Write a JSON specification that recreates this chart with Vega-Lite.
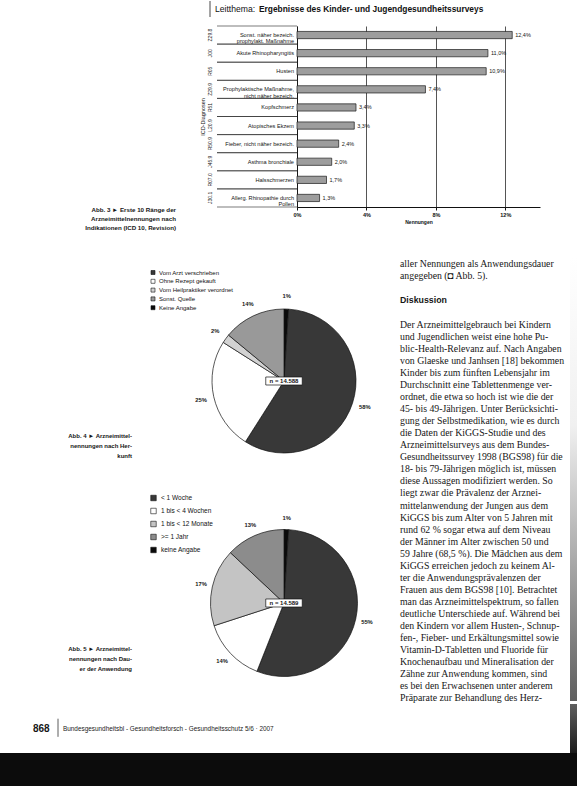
{
"$schema": "https://vega.github.io/schema/vega-lite/v6.json",
"padding": 0,
"background": "#ffffff",
"spacing": 0,
"config": {
  "view": {"stroke": null},
  "text": {"color": "#161616", "font": "Liberation Sans"},
  "axis": {"labelFont": "Liberation Sans", "titleFont": "Liberation Sans", "labelColor": "#111", "titleColor": "#111"},
  "legend": {"labelFont": "Liberation Sans", "labelColor": "#111"}
},
"resolve": {"scale": {"color": "independent", "fill": "independent"}, "legend": {"color": "independent", "fill": "independent"}},
"datasets": {
  "bars": [
    {"code": "Z29.8", "cat": "Sonst. näher bezeich.|prophylakt. Maßnahme", "v": 12.4, "lab": "12,4%"},
    {"code": "J00", "cat": "Akute Rhinopharyngitis", "v": 11.0, "lab": "11,0%"},
    {"code": "R05", "cat": "Husten", "v": 10.9, "lab": "10,9%"},
    {"code": "Z29.9", "cat": "Prophylaktische Maßnahme,|nicht näher bezeich.", "v": 7.4, "lab": "7,4%"},
    {"code": "R51", "cat": "Kopfschmerz", "v": 3.4, "lab": "3,4%"},
    {"code": "L20.9", "cat": "Atopisches Ekzem", "v": 3.3, "lab": "3,3%"},
    {"code": "R50.9", "cat": "Fieber, nicht näher bezeich.", "v": 2.4, "lab": "2,4%"},
    {"code": "J45.9", "cat": "Asthma bronchiale", "v": 2.0, "lab": "2,0%"},
    {"code": "R07.0", "cat": "Halsschmerzen", "v": 1.7, "lab": "1,7%"},
    {"code": "J30.1", "cat": "Allerg. Rhinopathie durch|Pollen", "v": 1.3, "lab": "1,3%"}
  ],
  "pie1": [
    {"fig": "Abb. 4", "cat": "Keine Angabe", "v": 1, "o": 0, "pct": "1%"},
    {"fig": "Abb. 4", "cat": "Vom Arzt verschrieben", "v": 58, "o": 1, "pct": "58%"},
    {"fig": "Abb. 4", "cat": "Ohne Rezept gekauft", "v": 25, "o": 2, "pct": "25%"},
    {"fig": "Abb. 4", "cat": "Vom Heilpraktiker verordnet", "v": 2, "o": 3, "pct": "2%"},
    {"fig": "Abb. 4", "cat": "Sonst. Quelle", "v": 14, "o": 4, "pct": "14%"}
  ],
  "pie2": [
    {"fig": "Abb. 5", "cat": "keine Angabe", "v": 1, "o": 0, "pct": "1%"},
    {"fig": "Abb. 5", "cat": "< 1 Woche", "v": 55, "o": 1, "pct": "55%"},
    {"fig": "Abb. 5", "cat": "1 bis < 4 Wochen", "v": 14, "o": 2, "pct": "14%"},
    {"fig": "Abb. 5", "cat": "1 bis < 12 Monate", "v": 17, "o": 3, "pct": "17%"},
    {"fig": "Abb. 5", "cat": ">= 1 Jahr", "v": 13, "o": 4, "pct": "13%"}
  ],
  "nums": [
    {"fig": "Abb. 4", "n": "n = 14.588"},
    {"fig": "Abb. 5", "n": "n = 14.589"}
  ],
  "captions": [
    {"fig": "Abb. 4", "t": "Abb. 4 ► Arzneimittel-|nennungen nach Her-|kunft"},
    {"fig": "Abb. 5", "t": "Abb. 5 ► Arzneimittel-|nennungen nach Dau-|er der Anwendung"}
  ],
  "page": [
    {"ln": 1, "kind": "body", "t": "aller Nennungen als Anwendungsdauer"},
    {"ln": 2, "kind": "body", "t": "angegeben (◘ Abb. 5)."},
    {"ln": 4, "kind": "head", "t": "Diskussion"},
    {"ln": 6, "kind": "body", "t": "Der Arzneimittelgebrauch bei Kindern"},
    {"ln": 7, "kind": "body", "t": "und Jugendlichen weist eine hohe Pu-"},
    {"ln": 8, "kind": "body", "t": "blic-Health-Relevanz auf. Nach Angaben"},
    {"ln": 9, "kind": "body", "t": "von Glaeske und Janhsen [18] bekommen"},
    {"ln": 10, "kind": "body", "t": "Kinder bis zum fünften Lebensjahr im"},
    {"ln": 11, "kind": "body", "t": "Durchschnitt eine Tablettenmenge ver-"},
    {"ln": 12, "kind": "body", "t": "ordnet, die etwa so hoch ist wie die der"},
    {"ln": 13, "kind": "body", "t": "45- bis 49-Jährigen. Unter Berücksichti-"},
    {"ln": 14, "kind": "body", "t": "gung der Selbstmedikation, wie es durch"},
    {"ln": 15, "kind": "body", "t": "die Daten der KiGGS-Studie und des"},
    {"ln": 16, "kind": "body", "t": "Arzneimittelsurveys aus dem Bundes-"},
    {"ln": 17, "kind": "body", "t": "Gesundheitssurvey 1998 (BGS98) für die"},
    {"ln": 18, "kind": "body", "t": "18- bis 79-Jährigen möglich ist, müssen"},
    {"ln": 19, "kind": "body", "t": "diese Aussagen modifiziert werden. So"},
    {"ln": 20, "kind": "body", "t": "liegt zwar die Prävalenz der Arznei-"},
    {"ln": 21, "kind": "body", "t": "mittelanwendung der Jungen aus dem"},
    {"ln": 22, "kind": "body", "t": "KiGGS bis zum Alter von 5 Jahren mit"},
    {"ln": 23, "kind": "body", "t": "rund 62 % sogar etwa auf dem Niveau"},
    {"ln": 24, "kind": "body", "t": "der Männer im Alter zwischen 50 und"},
    {"ln": 25, "kind": "body", "t": "59 Jahre (68,5 %). Die Mädchen aus dem"},
    {"ln": 26, "kind": "body", "t": "KiGGS erreichen jedoch zu keinem Al-"},
    {"ln": 27, "kind": "body", "t": "ter die Anwendungsprävalenzen der"},
    {"ln": 28, "kind": "body", "t": "Frauen aus dem BGS98 [10]. Betrachtet"},
    {"ln": 29, "kind": "body", "t": "man das Arzneimittelspektrum, so fallen"},
    {"ln": 30, "kind": "body", "t": "deutliche Unterschiede auf. Während bei"},
    {"ln": 31, "kind": "body", "t": "den Kindern vor allem Husten-, Schnup-"},
    {"ln": 32, "kind": "body", "t": "fen-, Fieber- und Erkältungsmittel sowie"},
    {"ln": 33, "kind": "body", "t": "Vitamin-D-Tabletten und Fluoride für"},
    {"ln": 34, "kind": "body", "t": "Knochenaufbau und Mineralisation der"},
    {"ln": 35, "kind": "body", "t": "Zähne zur Anwendung kommen, sind"},
    {"ln": 36, "kind": "body", "t": "es bei den Erwachsenen unter anderem"},
    {"ln": 37, "kind": "body", "t": "Präparate zur Behandlung des Herz-"}
  ],
  "blank": [{}]
},
"vconcat": [
  {"bounds": "flush", "spacing": 0, "hconcat": [
    {"width": 210, "height": 16, "data": {"name": "blank"}, "mark": {"type": "rule", "color": "#1a1a1a", "strokeWidth": 0.8},
     "encoding": {"x": {"datum": 1, "type": "quantitative", "scale": {"domain": [0, 1], "nice": false, "zero": false}, "axis": null}}},
    {"width": 5, "height": 24, "data": {"name": "blank"}, "mark": "text", "encoding": {"text": {"value": ""}}},
    {"width": 44, "height": 16, "data": {"values": [{"t": "Leitthema:"}]},
     "mark": {"type": "text", "align": "left", "baseline": "middle", "fontSize": 8.6, "color": "#111"},
     "encoding": {"x": {"datum": 0, "type": "quantitative", "scale": {"domain": [0, 1], "nice": false, "zero": false}, "axis": null}, "text": {"field": "t"}}},
    {"width": 318, "height": 16, "data": {"values": [{"t": "Ergebnisse des Kinder- und Jugendgesundheitssurveys"}]},
     "mark": {"type": "text", "align": "left", "baseline": "middle", "fontSize": 8.4, "fontWeight": "bold", "color": "#111"},
     "encoding": {"x": {"datum": 0, "type": "quantitative", "scale": {"domain": [0, 1], "nice": false, "zero": false}, "axis": null}, "text": {"field": "t"}}}
  ]},
  {"bounds": "flush", "spacing": 0, "hconcat": [
    {"width": 176, "height": 181, "data": {"values": [{"t": "Abb. 3 ► Erste 10 Ränge der|Arzneimittelnennungen nach|Indikationen (ICD 10, Revision)"}]},
     "mark": {"type": "text", "align": "right", "baseline": "top", "fontSize": 6.2, "fontWeight": "bold", "lineBreak": "|", "lineHeight": 9},
     "encoding": {
       "x": {"datum": 1, "type": "quantitative", "scale": {"domain": [0, 1], "nice": false, "zero": false}, "axis": null},
       "y": {"datum": 0, "type": "quantitative", "scale": {"domain": [0, 1], "nice": false, "zero": false}, "axis": null},
       "text": {"field": "t"}}},
    {"width": 27, "height": 231, "data": {"name": "blank"}, "mark": "text", "encoding": {"text": {"value": ""}}},
    {"width": 14, "height": 181, "data": {"name": "bars"},
     "mark": {"type": "text", "angle": 270, "fontSize": 5, "align": "center", "baseline": "middle"},
     "encoding": {
       "y": {"field": "cat", "type": "nominal", "sort": null, "scale": {"paddingInner": 0, "paddingOuter": 0},
             "axis": {"title": "ICD-Diagnosen", "labels": false, "ticks": false, "domain": false, "titleFontSize": 5.5, "titleFontWeight": "normal", "titlePadding": -2}},
       "text": {"field": "code"}}},
    {"width": 80, "height": 181, "data": {"name": "bars"},
     "layer": [
       {"mark": {"type": "rule", "color": "#222", "strokeWidth": 0.6},
        "encoding": {"y": {"field": "cat", "type": "nominal", "sort": null, "bandPosition": 0, "scale": {"paddingInner": 0, "paddingOuter": 0}, "axis": null}}},
       {"mark": {"type": "rule", "color": "#222", "strokeWidth": 0.6},
        "encoding": {"y": {"field": "cat", "type": "nominal", "sort": null, "bandPosition": 1, "scale": {"paddingInner": 0, "paddingOuter": 0}, "axis": null}}},
       {"mark": {"type": "text", "align": "right", "baseline": "middle", "dx": -3, "fontSize": 5.6, "lineBreak": "|", "lineHeight": 6.3},
        "encoding": {
          "y": {"field": "cat", "type": "nominal", "sort": null, "scale": {"paddingInner": 0, "paddingOuter": 0}, "axis": null},
          "x": {"datum": 1, "type": "quantitative", "scale": {"domain": [0, 1], "nice": false, "zero": false}, "axis": null},
          "text": {"field": "cat"}}}
     ]},
    {"width": 243, "height": 181, "data": {"name": "bars"},
     "layer": [
       {"mark": {"type": "bar", "fill": "#9d9d9d", "stroke": "#1a1a1a", "strokeWidth": 0.7},
        "encoding": {
          "y": {"field": "cat", "type": "nominal", "sort": null, "scale": {"paddingInner": 0.6, "paddingOuter": 0.3},
                "axis": {"title": null, "labels": false, "ticks": false, "domain": true, "domainColor": "#111", "domainWidth": 0.9}},
          "x": {"field": "v", "type": "quantitative", "scale": {"domain": [0, 14], "nice": false},
                "axis": {"values": [0, 2, 4, 6, 8, 10, 12, 14], "labelExpr": "datum.value + '%'", "labelFlush": false, "labelFontSize": 5.5, "labelFontWeight": "bold", "labelPadding": 2, "tickSize": 3, "tickColor": "#111", "domainColor": "#111", "grid": true, "gridColor": "#2a2a2a", "gridWidth": 0.8, "title": "Nennungen", "titleFontSize": 5, "titleFontWeight": "bold", "titlePadding": 2}}}},
       {"mark": {"type": "text", "align": "left", "baseline": "middle", "dx": 3, "fontSize": 5.5},
        "encoding": {
          "y": {"field": "cat", "type": "nominal", "sort": null},
          "x": {"field": "v", "type": "quantitative"},
          "text": {"field": "lab"}}}
     ]}
  ]},
  {"bounds": "flush", "spacing": 0,
   "resolve": {"scale": {"color": "independent", "fill": "independent"}, "legend": {"color": "independent", "fill": "independent"}},
   "hconcat": [
    {"width": 132, "height": 444, "data": {"name": "captions"},
     "mark": {"type": "text", "align": "right", "baseline": "top", "fontSize": 6, "fontWeight": "bold", "lineBreak": "|", "lineHeight": 10.2},
     "encoding": {
       "x": {"datum": 1, "type": "quantitative", "scale": {"domain": [0, 1], "nice": false, "zero": false}, "axis": null},
       "y": {"field": "fig", "type": "nominal", "scale": {"type": "point", "domain": ["Abb. 4", "Abb. 5"], "padding": 0.542, "align": 0.762}, "axis": null},
       "text": {"field": "t"}}},
    {"width": 72, "height": 444, "data": {"name": "blank"}, "mark": "text", "encoding": {"text": {"value": ""}}},
    {"width": 160, "height": 444,
     "resolve": {"scale": {"color": "independent", "fill": "independent"}, "legend": {"color": "independent", "fill": "independent"}},
     "layer": [
       {"data": {"name": "pie1"}, "mark": {"type": "arc", "outerRadius": 72, "stroke": "#111", "strokeWidth": 0.7},
        "encoding": {
          "y": {"field": "fig", "type": "nominal", "scale": {"type": "point", "domain": ["Abb. 4", "Abb. 5"], "range": [124, 346], "padding": 0}, "axis": null},
          "theta": {"field": "v", "type": "quantitative", "stack": true},
          "order": {"field": "o", "type": "quantitative"},
          "color": {"field": "cat", "type": "nominal",
                    "scale": {"domain": ["Vom Arzt verschrieben", "Ohne Rezept gekauft", "Vom Heilpraktiker verordnet", "Sonst. Quelle", "Keine Angabe"],
                              "range": ["#383838", "#ffffff", "#d2d2d2", "#999999", "#0a0a0a"]},
                    "legend": {"title": null, "orient": "none", "legendX": -54, "legendY": 12.5, "symbolType": "square", "symbolSize": 16, "symbolStrokeColor": "#111", "symbolStrokeWidth": 0.6, "labelFontSize": 6, "labelOffset": 3, "rowPadding": 0.8}}}},
       {"data": {"name": "pie1"}, "mark": {"type": "text", "radius": 85, "fontSize": 5.8, "fontWeight": "bold"},
        "encoding": {
          "y": {"field": "fig", "type": "nominal", "scale": {"type": "point", "domain": ["Abb. 4", "Abb. 5"], "range": [124, 346], "padding": 0}, "axis": null},
          "theta": {"field": "v", "type": "quantitative", "stack": true},
          "order": {"field": "o", "type": "quantitative"},
          "text": {"field": "pct"}}},
       {"data": {"name": "pie2"}, "mark": {"type": "arc", "outerRadius": 73.5, "stroke": "#111", "strokeWidth": 0.7},
        "encoding": {
          "y": {"field": "fig", "type": "nominal", "scale": {"type": "point", "domain": ["Abb. 4", "Abb. 5"], "range": [124, 346], "padding": 0}, "axis": null},
          "theta": {"field": "v", "type": "quantitative", "stack": true},
          "order": {"field": "o", "type": "quantitative"},
          "fill": {"field": "cat", "type": "nominal",
                   "scale": {"domain": ["< 1 Woche", "1 bis < 4 Wochen", "1 bis < 12 Monate", ">= 1 Jahr", "keine Angabe"],
                             "range": ["#383838", "#ffffff", "#c4c4c4", "#8c8c8c", "#0a0a0a"]},
                   "legend": {"title": null, "orient": "none", "legendX": -54, "legendY": 237.5, "symbolType": "square", "symbolSize": 30, "symbolStrokeColor": "#111", "symbolStrokeWidth": 0.6, "labelFontSize": 6.5, "labelOffset": 4, "rowPadding": 4}}}},
       {"data": {"name": "pie2"}, "mark": {"type": "text", "radius": 85, "fontSize": 5.8, "fontWeight": "bold"},
        "encoding": {
          "y": {"field": "fig", "type": "nominal", "scale": {"type": "point", "domain": ["Abb. 4", "Abb. 5"], "range": [124, 346], "padding": 0}, "axis": null},
          "theta": {"field": "v", "type": "quantitative", "stack": true},
          "order": {"field": "o", "type": "quantitative"},
          "text": {"field": "pct"}}},
       {"data": {"name": "nums"}, "mark": {"type": "point", "shape": "M-1,-0.22H1V0.22H-1Z", "size": 1330, "filled": true, "fill": "#ffffff", "stroke": "#111", "strokeWidth": 0.7, "opacity": 1},
        "encoding": {"y": {"field": "fig", "type": "nominal", "scale": {"type": "point", "domain": ["Abb. 4", "Abb. 5"], "range": [124, 346], "padding": 0}, "axis": null}}},
       {"data": {"name": "nums"}, "mark": {"type": "text", "fontSize": 6, "fontWeight": "bold", "baseline": "middle"},
        "encoding": {"y": {"field": "fig", "type": "nominal", "scale": {"type": "point", "domain": ["Abb. 4", "Abb. 5"], "range": [124, 346], "padding": 0}, "axis": null}, "text": {"field": "n"}}}
     ]},
    {"width": 36, "height": 444, "data": {"name": "blank"}, "mark": "text", "encoding": {"text": {"value": ""}}},
    {"width": 170, "height": 444, "data": {"name": "page"},
     "layer": [
       {"transform": [{"filter": "datum.kind === 'body'"}],
        "mark": {"type": "text", "align": "left", "baseline": "middle", "fontSize": 9.8, "font": "Liberation Serif"},
        "encoding": {
          "x": {"datum": 0, "type": "quantitative", "scale": {"domain": [0, 1], "nice": false, "zero": false}, "axis": null},
          "y": {"field": "ln", "type": "quantitative", "scale": {"domain": [0.395, 37.21], "nice": false, "zero": false, "reverse": true}, "axis": null},
          "text": {"field": "t"}}},
       {"transform": [{"filter": "datum.kind === 'head'"}],
        "mark": {"type": "text", "align": "left", "baseline": "middle", "fontSize": 8.8, "fontWeight": "bold"},
        "encoding": {
          "x": {"datum": 0, "type": "quantitative"},
          "y": {"field": "ln", "type": "quantitative"},
          "text": {"field": "t"}}}
     ]},
    {"width": 7, "height": 444, "data": {"name": "blank"},
     "mark": {"type": "rect", "color": {"gradient": "linear", "x1": 0, "y1": 0, "x2": 0, "y2": 1, "stops": [{"offset": 0, "color": "#ffffff"}, {"offset": 0.38, "color": "#f0f0f0"}, {"offset": 1, "color": "#5f5f5f"}]}},
     "encoding": {
       "x": {"datum": 0, "type": "quantitative", "scale": {"domain": [0, 1], "nice": false, "zero": false}, "axis": null},
       "x2": {"datum": 1},
       "y": {"datum": 0, "type": "quantitative", "scale": {"domain": [0, 1], "nice": false, "zero": false}, "axis": null},
       "y2": {"datum": 1}}}
  ]},
  {"bounds": "flush", "spacing": 0, "hconcat": [
    {"width": 33, "height": 49, "data": {"name": "blank"}, "mark": "text", "encoding": {"text": {"value": ""}}},
    {"width": 20, "height": 49, "data": {"values": [{"t": "868"}]},
     "mark": {"type": "text", "align": "left", "baseline": "middle", "fontSize": 10, "fontWeight": "bold"},
     "encoding": {"x": {"datum": 0, "type": "quantitative", "scale": {"domain": [0, 1], "nice": false, "zero": false}, "axis": null}, "text": {"field": "t"}}},
    {"width": 10, "height": 49, "data": {"name": "blank"}, "mark": {"type": "rule", "color": "#333", "strokeWidth": 0.8},
     "encoding": {
       "x": {"datum": 0.5, "type": "quantitative", "scale": {"domain": [0, 1], "nice": false, "zero": false}, "axis": null},
       "y": {"datum": 0.33, "type": "quantitative", "scale": {"domain": [0, 1], "nice": false, "zero": false}, "axis": null},
       "y2": {"datum": 0.7}}},
    {"width": 507, "height": 49, "data": {"values": [{"t": "Bundesgesundheitsbl - Gesundheitsforsch - Gesundheitsschutz 5/6 · 2007"}]},
     "mark": {"type": "text", "align": "left", "baseline": "middle", "fontSize": 6.4, "color": "#222"},
     "encoding": {"x": {"datum": 0, "type": "quantitative", "scale": {"domain": [0, 1], "nice": false, "zero": false}, "axis": null}, "text": {"field": "t"}}},
    {"width": 7, "height": 49, "data": {"name": "blank"},
     "mark": {"type": "rect", "color": {"gradient": "linear", "x1": 0, "y1": 0, "x2": 0, "y2": 1, "stops": [{"offset": 0, "color": "#5f5f5f"}, {"offset": 1, "color": "#1a1a1a"}]}},
     "encoding": {
       "x": {"datum": 0, "type": "quantitative", "scale": {"domain": [0, 1], "nice": false, "zero": false}, "axis": null},
       "x2": {"datum": 1},
       "y": {"datum": 0, "type": "quantitative", "scale": {"domain": [0, 1], "nice": false, "zero": false}, "axis": null},
       "y2": {"datum": 1}}}
  ]},
  {"width": 577, "height": 38, "data": {"name": "blank"},
   "mark": {"type": "rect", "color": "#0c0c0c"},
   "encoding": {
     "x": {"datum": 0, "type": "quantitative", "scale": {"domain": [0, 1], "nice": false, "zero": false}, "axis": null},
     "x2": {"datum": 1},
     "y": {"datum": 0, "type": "quantitative", "scale": {"domain": [0, 1], "nice": false, "zero": false}, "axis": null},
     "y2": {"datum": 1}}}
]
}
